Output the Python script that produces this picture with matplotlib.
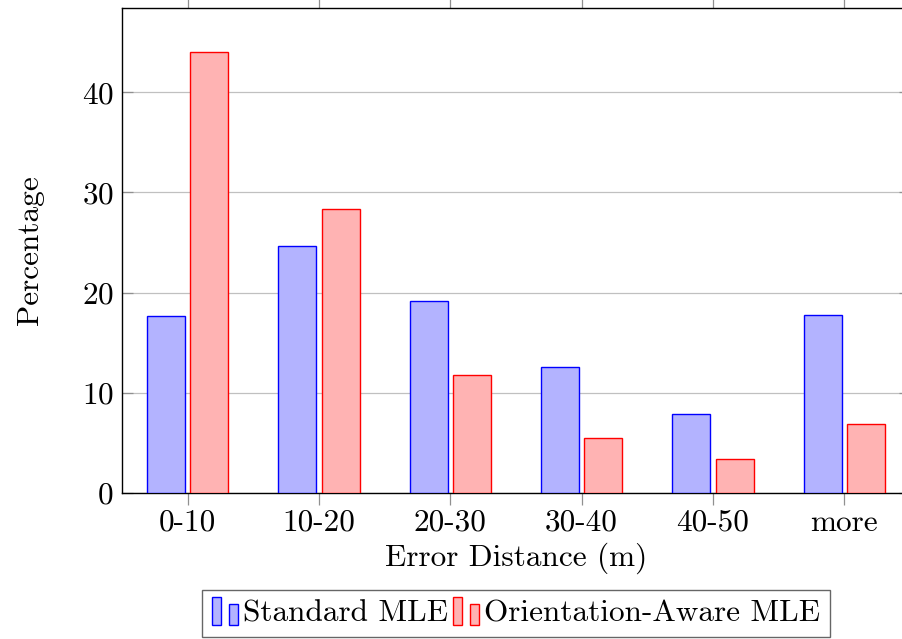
import matplotlib
matplotlib.use("Agg")
import matplotlib.pyplot as plt
import numpy as np
from matplotlib.patches import Rectangle
from matplotlib.legend_handler import HandlerBase

plt.rcParams['font.family'] = 'serif'
plt.rcParams['font.serif'] = ['cmr10']
plt.rcParams['mathtext.fontset'] = 'cm'
plt.rcParams['axes.formatter.use_mathtext'] = True

# data
categories = ['0-10', '10-20', '20-30', '30-40', '40-50', 'more']
standard = [17.7, 24.6, 19.2, 12.6, 7.9, 17.8]
orientation = [44.0, 28.3, 11.8, 5.5, 3.4, 6.9]
series_names = ['Standard MLE', 'Orientation-Aware MLE']

blue_fill, blue_edge = '#b3b3ff', '#0000ff'
red_fill, red_edge = '#ffb3b3', '#ff0000'
fs = 22.5


class TwoBarHandler(HandlerBase):
    # pgfplots-style ybar legend image: two small bars
    def create_artists(self, legend, orig, xd, yd, w, h, fontsize, trans):
        fc = orig.get_facecolor()
        ec = orig.get_edgecolor()
        bw = w * 0.32
        r1 = Rectangle((xd, yd - h * 0.15), bw, h * 1.25, facecolor=fc,
                       edgecolor=ec, lw=1.0, transform=trans)
        r2 = Rectangle((xd + w * 0.6, yd - h * 0.15), bw, h * 0.95, facecolor=fc,
                       edgecolor=ec, lw=1.0, transform=trans)
        return [r1, r2]


fig = plt.figure(figsize=(9.03, 6.39), dpi=100)
ax = fig.add_axes([122 / 903, 146 / 639, 788 / 903, 485 / 639])

x = np.arange(len(categories))
w = 0.29
off = 0.165
b1 = ax.bar(x - off, standard, w, color=blue_fill, edgecolor=blue_edge, lw=1.0,
            label=series_names[0], zorder=3)
b2 = ax.bar(x + off, orientation, w, color=red_fill, edgecolor=red_edge, lw=1.0,
            label=series_names[1], zorder=3)

ax.set_xlim(-0.5, len(categories) - 0.5)
ax.set_ylim(0, 48.4)
ax.set_xticks(x)
ax.set_xticklabels(categories)
ax.set_yticks([0, 10, 20, 30, 40])
ax.yaxis.grid(True, color='#c0c0c0', lw=0.9, zorder=0)
ax.set_axisbelow(True)

ax.tick_params(axis='x', direction='out', top=True, length=8.5, width=0.9,
               color='#909090', labelsize=fs, pad=3)
ax.tick_params(axis='y', direction='in', right=True, length=8, width=0.9,
               color='#909090', labelsize=fs, pad=6)
for s in ax.spines.values():
    s.set_linewidth(1.0)

ax.set_xlabel('Error Distance (m)', fontsize=fs, labelpad=4)
ax.set_ylabel('Percentage', fontsize=fs, labelpad=27)

leg = fig.legend(handles=[b1.patches[0], b2.patches[0]], labels=series_names,
                 loc='upper center', bbox_to_anchor=(516 / 903, 1 - 590 / 639),
                 ncol=2, fontsize=fs, frameon=True, fancybox=False,
                 handler_map={Rectangle: TwoBarHandler()},
                 handlelength=0.9, handletextpad=0.1, columnspacing=0.15,
                 borderpad=0.3, borderaxespad=0)
leg.get_frame().set_edgecolor('#404040')
leg.get_frame().set_linewidth(1.0)

fig.savefig('out.png', dpi=100)
